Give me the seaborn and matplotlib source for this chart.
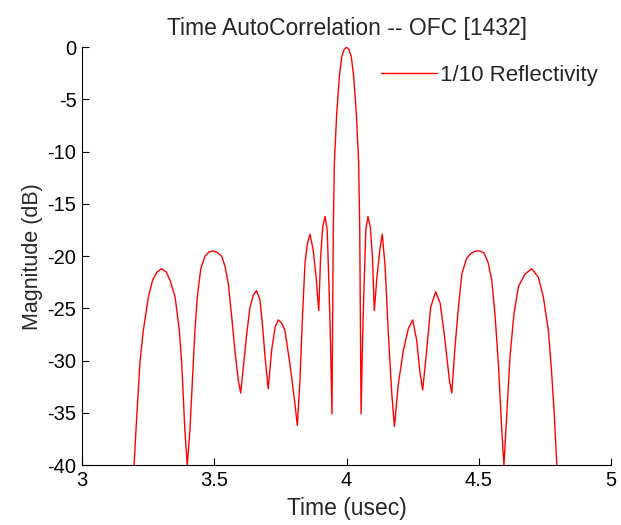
import matplotlib

matplotlib.use("Agg")
import matplotlib.pyplot as plt
import pandas as pd
import seaborn as sns

# time axis (usec) and autocorrelation magnitude (dB)
time_us = [
    3.197, 3.204, 3.219, 3.232, 3.251, 3.267, 3.284, 3.301, 3.318, 3.333,
    3.352, 3.368, 3.377, 3.389, 3.398,
    3.408, 3.421, 3.427, 3.436, 3.449, 3.465, 3.480, 3.495, 3.510, 3.528,
    3.541, 3.553, 3.566, 3.578, 3.591, 3.600,
    3.610, 3.623, 3.635, 3.648, 3.660, 3.673, 3.683, 3.692, 3.704,
    3.717, 3.730, 3.742, 3.755, 3.767, 3.786, 3.805, 3.814,
    3.824, 3.834, 3.843, 3.852, 3.862, 3.874, 3.885, 3.895,
    3.902, 3.910, 3.919, 3.927, 3.935, 3.940, 3.945,
    3.950, 3.954, 3.963, 3.973, 3.982, 3.991, 4.000, 4.009, 4.018, 4.027,
    4.037, 4.046, 4.050, 4.055,
    4.060, 4.065, 4.073, 4.081, 4.090, 4.098, 4.105,
    4.115, 4.126, 4.135, 4.146, 4.158, 4.171, 4.181,
    4.196, 4.215, 4.234, 4.250, 4.265, 4.278, 4.288,
    4.303, 4.318, 4.337, 4.354, 4.372, 4.389, 4.398,
    4.410, 4.423, 4.436, 4.454, 4.472, 4.490, 4.505, 4.520, 4.535, 4.549,
    4.561, 4.574, 4.587, 4.595,
    4.606, 4.618, 4.633, 4.650, 4.675, 4.700, 4.725, 4.744, 4.763, 4.775,
    4.785, 4.795,
]
magnitude_db = [
    -40.0, -36.7, -30.2, -27.1, -23.9, -22.3, -21.5, -21.2, -21.5, -22.3,
    -23.9, -27.1, -30.2, -36.7, -40.0,
    -36.7, -30.2, -27.1, -23.9, -21.2, -20.0, -19.6, -19.5, -19.6, -20.0,
    -21.0, -22.6, -25.8, -29.0, -31.9, -33.1,
    -30.6, -27.4, -24.9, -23.7, -23.3, -24.2, -26.8, -29.6, -32.7,
    -29.0, -26.8, -26.1, -26.4, -27.1, -30.3, -34.1, -36.2,
    -31.9, -25.5, -20.7, -18.8, -17.9, -19.4, -22.0, -25.2,
    -20.1, -17.2, -16.2, -17.5, -23.9, -28.7, -35.1,
    -17.5, -11.1, -6.3, -2.8, -0.9, -0.2, 0.0, -0.2, -0.9, -2.8,
    -6.3, -11.1, -17.5, -35.1,
    -28.7, -23.9, -17.5, -16.2, -17.2, -20.1, -25.2,
    -22.0, -19.4, -17.9, -21.0, -27.4, -33.1, -36.3,
    -32.2, -29.0, -26.9, -26.1, -28.0, -31.2, -32.8,
    -29.0, -24.9, -23.4, -24.5, -28.0, -31.9, -33.1,
    -28.7, -24.9, -21.7, -20.2, -19.7, -19.5, -19.5, -19.7, -20.6, -22.3,
    -25.5, -30.3, -36.7, -40.0,
    -35.1, -29.6, -25.5, -22.9, -21.7, -21.2, -22.0, -23.9, -27.1, -31.0,
    -35.0, -40.0,
]
series_label = "1/10 Reflectivity"
x_ticks = [3, 3.5, 4, 4.5, 5]
x_tick_labels = ["3", "3.5", "4", "4.5", "5"]
y_ticks = [0, -5, -10, -15, -20, -25, -30, -35, -40]
y_tick_labels = ["0", "-5", "-10", "-15", "-20", "-25", "-30", "-35", "-40"]

sns.set_theme(style="ticks")
plt.rcParams["font.family"] = ["Liberation Sans", "DejaVu Sans"]
plt.rcParams["axes.unicode_minus"] = False

df = pd.DataFrame({"time": time_us, "mag": magnitude_db})

fig = plt.figure(figsize=(6.21, 5.25), dpi=100)
ax = fig.add_axes([0.132, 0.114, 0.852, 0.796])
sns.lineplot(data=df, x="time", y="mag", color="#ff0000", linewidth=1.0,
             label=series_label, estimator=None, sort=False, ax=ax)

ax.set_xlim(3, 5)
ax.set_ylim(-40, 0)
ax.set_xticks(x_ticks, x_tick_labels)
ax.set_yticks(y_ticks, y_tick_labels)
ax.tick_params(direction="in", length=5, width=0.8, labelsize=14.5, pad=4,
               colors="black")
for side in ("top", "right"):
    ax.spines[side].set_visible(False)
for side in ("left", "bottom"):
    ax.spines[side].set_linewidth(0.8)
    ax.spines[side].set_color("black")

ax.set_title("Time AutoCorrelation -- OFC [1432]", fontsize=16.5, pad=9)
ax.set_xlabel("Time (usec)", fontsize=16.5, labelpad=5)
ax.set_ylabel("Magnitude (dB)", fontsize=15.5, labelpad=3)
ax.legend(loc="upper right", frameon=False, fontsize=16, handlelength=2.5,
          handletextpad=0.15, borderaxespad=0.2, bbox_to_anchor=(1.0, 0.99))

fig.savefig("out.png", dpi=100)
